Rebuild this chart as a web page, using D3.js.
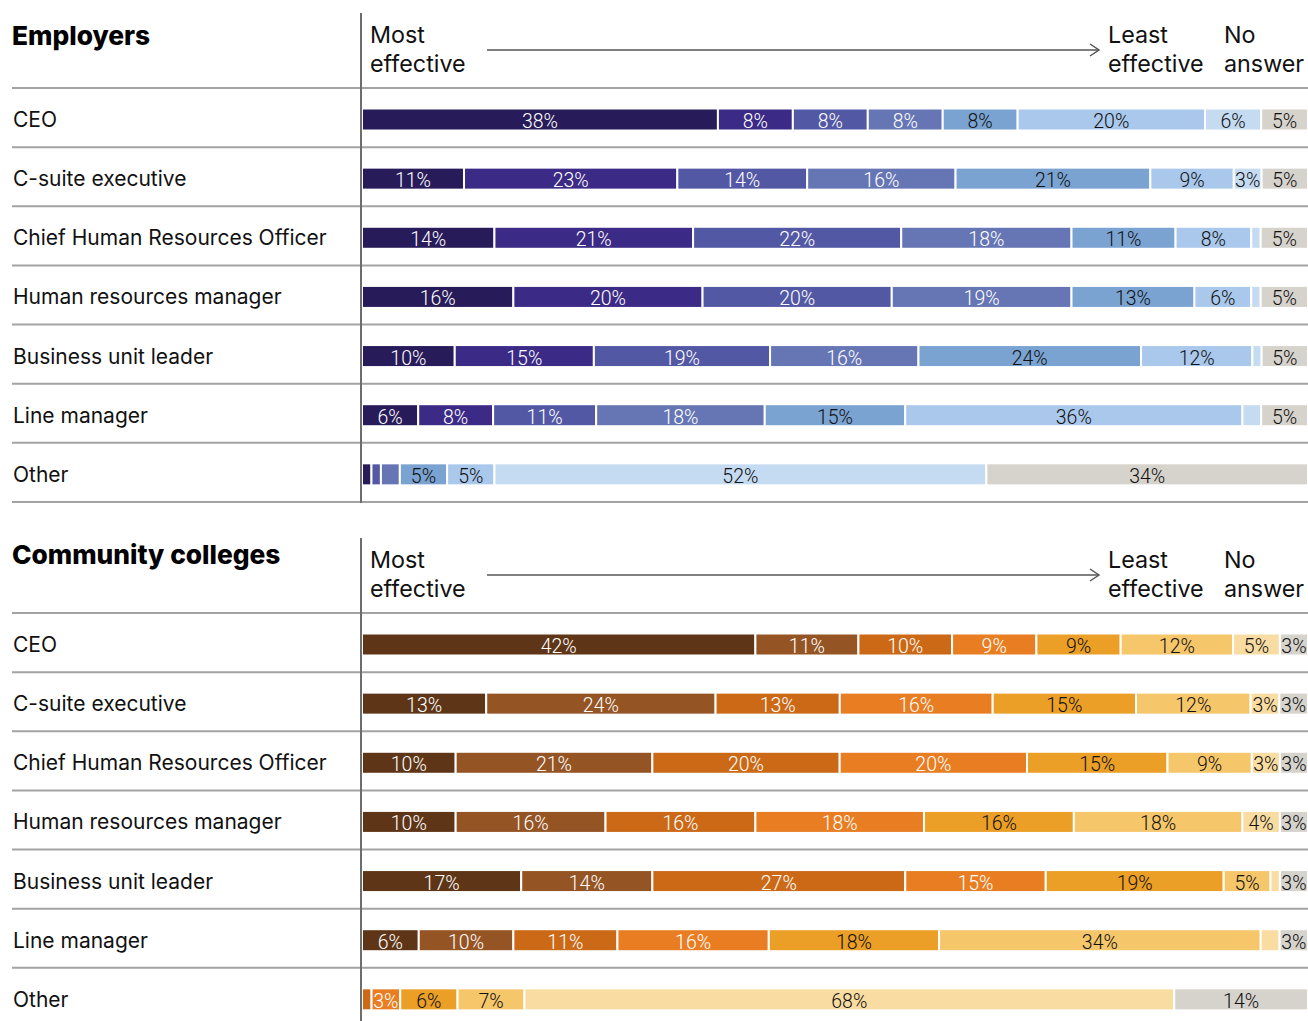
<!DOCTYPE html>
<html>
<head>
<meta charset="utf-8">
<script src="https://cdn.jsdelivr.net/npm/d3@7"></script>
<style>
  html, body { margin: 0; padding: 0; background: #fff; }
  svg { display: block; }
</style>
</head>
<body>
<svg id="chart" width="1308" height="1021"></svg>
<script>
// ---------- DATA ----------
const panelTitles = ["Employers", "Community colleges"];
const roles = ["CEO", "C-suite executive", "Chief Human Resources Officer",
  "Human resources manager", "Business unit leader", "Line manager", "Other"];
const keys = ["r1", "r2", "r3", "r4", "r5", "r6", "r7", "na"];

// Employers: share ranking each role 1 (most effective) .. 7 (least), then no answer
const employerValues = [
  [38, 8, 8, 8, 8, 20, 6, 5],
  [11, 23, 14, 16, 21, 9, 3, 5],
  [14, 21, 22, 18, 11, 8, 1, 5],
  [16, 20, 20, 19, 13, 6, 1, 5],
  [10, 15, 19, 16, 24, 12, 1, 5],
  [6, 8, 11, 18, 15, 36, 2, 5],
  [1, 0, 1, 2, 5, 5, 52, 34]
];
const collegeValues = [
  [42, 11, 10, 9, 9, 12, 5, 3],
  [13, 24, 13, 16, 15, 12, 3, 3],
  [10, 21, 20, 20, 15, 9, 3, 3],
  [10, 16, 16, 18, 16, 18, 4, 3],
  [17, 14, 27, 15, 19, 5, 1, 3],
  [6, 10, 11, 16, 18, 34, 2, 3],
  [0, 0, 1, 3, 6, 7, 68, 14]
];
// minimum share that gets a printed label
const labelMin = 3;

const employerColors = ["#271b59", "#3b2a86", "#5358a5", "#6676b5", "#7aa3d2", "#a9c8eb", "#c5dbf2", "#d6d2cc"];
const collegeColors = ["#5e3617", "#955424", "#cb6917", "#e87d22", "#eb9f26", "#f6c66b", "#f9dca2", "#d6d2cc"];
const darkText = [true, true, true, true, false, false, false, false];

// ---------- LAYOUT ----------
const W = 1308;
const svg = d3.select("#chart");
const xLeft = 362, xRight = 1308;
const rowH = 59.14;
const barH = 22;
const fontMain = "Inter, 'Noto Sans', sans-serif";

const panels = [
  { title: panelTitles[0], values: employerValues, colors: employerColors, top: 0, vTop: 13, titleY: 45 },
  { title: panelTitles[1], values: collegeValues, colors: collegeColors, top: 525, vTop: 538, titleY: 39 }
];

const x = d3.scaleLinear().domain([0, 1]).range([xLeft, xRight]);

panels.forEach(p => {
  const g = svg.append("g").attr("transform", `translate(0,${p.top})`);
  const headerLine = 88;
  const y = d3.scaleBand().domain(roles).range([headerLine, headerLine + rowH * roles.length]).paddingInner(0);

  // title
  g.append("text").attr("x", 12).attr("y", p.titleY)
    .attr("font-family", fontMain).attr("font-weight", 800).attr("font-size", 26.3)
    .attr("fill", "#000").text(p.title);

  // header text
  const hdr = g.append("g").attr("font-family", fontMain).attr("font-size", 23.3).attr("fill", "#111");
  hdr.append("text").attr("x", 370).attr("y", 43).text("Most");
  hdr.append("text").attr("x", 370).attr("y", 72).text("effective");
  hdr.append("text").attr("x", 1108).attr("y", 43).text("Least");
  hdr.append("text").attr("x", 1108).attr("y", 72).text("effective");
  hdr.append("text").attr("x", 1224).attr("y", 43).text("No");
  hdr.append("text").attr("x", 1224).attr("y", 72).text("answer");

  // arrow
  g.append("line").attr("x1", 487).attr("x2", 1099).attr("y1", 50).attr("y2", 50)
    .attr("stroke", "#555").attr("stroke-width", 1.5);
  g.append("path").attr("d", "M1090,44 L1099,50 L1090,56")
    .attr("fill", "none").attr("stroke", "#555").attr("stroke-width", 1.5);

  // separators
  const seps = [headerLine].concat(roles.map(r => y(r) + y.bandwidth()));
  g.selectAll("line.sep").data(seps).join("line").attr("class", "sep")
    .attr("x1", 12).attr("x2", W).attr("y1", d => d).attr("y2", d => d)
    .attr("stroke", "#a3a3a3").attr("stroke-width", 2);

  // data table
  const table = roles.map((r, i) => {
    const o = { role: r };
    keys.forEach((k, j) => o[k] = p.values[i][j]);
    return o;
  });
  const series = d3.stack().keys(keys).offset(d3.stackOffsetExpand)(table);

  const barOff = 20.5; // offset of bar top within row

  // row labels
  g.selectAll("text.role").data(roles).join("text").attr("class", "role")
    .attr("x", 13).attr("y", d => y(d) + 39)
    .attr("font-family", fontMain).attr("font-size", 21).attr("fill", "#111")
    .text(d => d);

  const sg = g.selectAll("g.series").data(series).join("g").attr("class", "series");
  sg.each(function(s, si) {
    const gg = d3.select(this);
    gg.selectAll("rect").data(s.filter(d => d[1] > d[0])).join("rect")
      .attr("x", d => x(d[0]))
      .attr("width", d => Math.max(0, x(d[1]) - x(d[0])))
      .attr("y", d => y(d.data.role) + barOff)
      .attr("height", barH)
      .attr("fill", p.colors[si])
      .attr("stroke", "#fff").attr("stroke-width", 2);
    gg.selectAll("text").data(s.filter(d => d.data[keys[si]] >= labelMin)).join("text")
      .attr("x", d => (x(d[0]) + x(d[1])) / 2)
      .attr("y", d => y(d.data.role) + barOff + barH - 2.5)
      .attr("text-anchor", "middle")
      .attr("font-family", "Roboto, sans-serif").attr("font-weight", 300).attr("font-size", 19.5)
      .attr("fill", darkText[si] ? "#fff" : "#111")
      .text(d => d.data[keys[si]] + "%");
  });

  // vertical divider
  g.append("line").attr("x1", 361).attr("x2", 361)
    .attr("y1", p.vTop - p.top).attr("y2", p.top === 0 ? 503 : 520)
    .attr("stroke", "#6d6d6d").attr("stroke-width", 2);
});
</script>
</body>
</html>
